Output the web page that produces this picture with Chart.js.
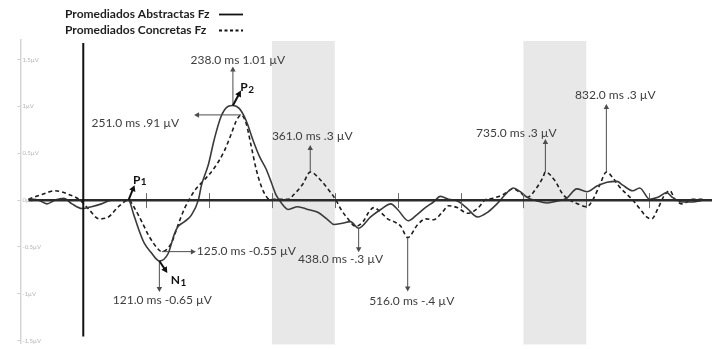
<!DOCTYPE html>
<html>
<head>
<meta charset="utf-8">
<style>
  html, body { margin: 0; padding: 0; background: #ffffff; }
  #wrap { width: 720px; height: 349px; position: relative; }
</style>
<script src="https://cdn.jsdelivr.net/npm/chart.js@4.4.0/dist/chart.umd.min.js"></script>
</head>
<body>
<div id="wrap"><canvas id="erp" width="720" height="349"></canvas></div>
<script>
// Grand-average ERP at Fz: abstract vs concrete words (time in ms, amplitude in µV)
const seriesNames = ['Promediados Abstractas Fz', 'Promediados Concretas Fz'];

const timesAbstract = [-87, -71, -58, -45, -31, -18, -2, 13, 29, 45, 61, 72, 80, 88, 97, 108, 121, 135, 145, 151,
  161, 172, 183, 188, 199, 208, 219, 230, 238, 248, 259, 270, 280, 291, 299, 307, 315, 326, 341, 357,
  373, 389, 399, 410, 425, 438, 457, 473, 489, 500, 517, 530, 544, 557, 568, 581, 595, 611, 627, 643,
  658, 674, 684, 695, 706, 722, 738, 754, 769, 785, 801, 817, 833, 849, 858, 874, 885, 901, 914, 928,
  937, 953, 969, 985];
const valuesAbstract = [0.01, 0, -0.04, 0, 0.02, -0.04, -0.09, -0.07, -0.04, 0, 0, 0, -0.15, -0.31, -0.46, -0.56, -0.65, -0.57, -0.36, -0.28,
  -0.23, -0.16, 0, 0.16, 0.38, 0.64, 0.89, 1.0, 1.01, 0.98, 0.85, 0.64, 0.47, 0.33, 0.19, 0.05, -0.03, -0.10, -0.07, -0.10,
  -0.13, -0.21, -0.26, -0.25, -0.23, -0.3, -0.18, -0.10, -0.04, -0.10, -0.22, -0.16, -0.08, -0.02, 0.04, 0.01, -0.01, -0.09, -0.18, -0.13,
  -0.04, 0.08, 0.13, 0.09, 0.03, -0.01, -0.03, -0.01, 0.02, 0.12, 0.09, 0.15, 0.19, 0.20, 0.16, 0.10, 0.13, 0.01, 0.03, 0.08,
  0.03, -0.02, -0.02, 0];

const timesConcrete = [-87, -66, -45, -23, -5, 9, 25, 40, 56, 72, 82, 93, 105, 120, 125, 140, 151, 161, 177, 193,
  208, 224, 235, 243, 251, 259, 267, 275, 283, 291, 296, 303, 326, 335, 349, 361, 378, 389, 402, 410,
  421, 433, 445, 454, 462, 473, 484, 494, 505, 516, 532, 545, 557, 571, 581, 595, 611, 627, 639, 652,
  668, 684, 695, 706, 722, 731, 735, 750, 763, 774, 790, 801, 811, 822, 832, 842, 853, 865, 874, 885,
  896, 904, 914, 925, 933, 941, 953, 969, 985];
const valuesConcrete = [0.01, 0.06, 0.10, 0.06, 0, -0.10, -0.20, -0.18, -0.07, 0, -0.09, -0.23, -0.39, -0.53, -0.55, -0.46, -0.26, -0.09, 0.10, 0.22,
  0.34, 0.52, 0.70, 0.84, 0.91, 0.82, 0.58, 0.33, 0.15, 0.04, 0.01, 0.01, 0.01, 0.06, 0.17, 0.3, 0.21, 0.12, 0, -0.10,
  -0.20, -0.28, -0.23, -0.13, -0.08, -0.13, -0.20, -0.23, -0.28, -0.4, -0.26, -0.20, -0.21, -0.13, -0.06, -0.08, -0.14, -0.09, 0, 0.02,
  0.06, 0.12, 0.08, 0.03, 0.14, 0.24, 0.3, 0.21, 0.06, 0, -0.05, -0.07, 0.01, 0.17, 0.3, 0.24, 0.14, 0.06, 0, -0.09,
  -0.18, -0.20, -0.09, 0.06, 0.10, 0.01, -0.04, 0.01, 0.01];

// Axis ticks
const amplitudeTicks = [-1.5, -1, -0.5, 0, 0.5, 1, 1.5];
const timeTicks = [100, 200, 300, 400, 500, 600, 700, 800, 900];

// Analysis windows (ms)
const windowStarts = [300, 700];
const windowEnds = [400, 800];

// Labelled peaks: series index 0 = abstract, 1 = concrete
const peakTimes = [238, 251, 361, 125, 121, 438, 516, 735, 832];
const peakValues = [1.01, 0.91, 0.3, -0.55, -0.65, -0.3, -0.4, 0.3, 0.3];
const peakSeries = [0, 1, 1, 1, 0, 0, 1, 1, 1];
const peakLabels = ['238.0 ms 1.01 µV', '251.0 ms .91 µV', '361.0 ms .3 µV', '125.0 ms -0.55 µV',
  '121.0 ms -0.65 µV', '438.0 ms -.3 µV', '516.0 ms -.4 µV', '735.0 ms .3 µV', '832.0 ms .3 µV'];

// Components
const componentLetters = ['P', 'N', 'P'];
const componentDigits = ['1', '1', '2'];
const componentTimes = [72, 121, 238];
const componentValues = [0, -0.65, 1.01];

// Callout geometry (pixel offsets from the peak point)
const calloutStyle = [
  { dir: 'up', len: 39, tx: 5, ty: -45, align: 'center' },
  { dir: 'left', len: 47, tx: -62, ty: 8, align: 'right' },
  { dir: 'up', len: 27, tx: 2, ty: -36, align: 'center' },
  { dir: 'right', len: 34, tx: 35, ty: -1, align: 'left' },
  { dir: 'down', len: 31, tx: 3, ty: 39, align: 'center' },
  { dir: 'down', len: 24, tx: -18, ty: 31, align: 'center' },
  { dir: 'down', len: 54, tx: 4, ty: 64, align: 'center' },
  { dir: 'up', len: 33, tx: -29, ty: -39, align: 'center' },
  { dir: 'up', len: 68, tx: 9, ty: -77, align: 'center' }
];
const componentStyle = [
  { ax: 6, ay: -15, lx: 11, ly: -21 },
  { ax: 8, ay: 12, lx: 19, ly: 19 },
  { ax: 8, ay: -15, lx: 14, ly: -19 }
];

const ANNOT_FONT = '12px Lato, "Open Sans", sans-serif';
const BOLD_FONT = 'bold 12px Lato, "Open Sans", sans-serif';

function arrow(ctx, x1, y1, x2, y2, width, color, head) {
  const ang = Math.atan2(y2 - y1, x2 - x1);
  ctx.save();
  ctx.strokeStyle = color;
  ctx.fillStyle = color;
  ctx.lineWidth = width;
  ctx.setLineDash([]);
  ctx.beginPath();
  ctx.moveTo(x1, y1);
  ctx.lineTo(x2 - Math.cos(ang) * head * 0.6, y2 - Math.sin(ang) * head * 0.6);
  ctx.stroke();
  ctx.beginPath();
  ctx.moveTo(x2, y2);
  ctx.lineTo(x2 - head * Math.cos(ang) + head * 0.55 * Math.sin(ang), y2 - head * Math.sin(ang) - head * 0.55 * Math.cos(ang));
  ctx.lineTo(x2 - head * Math.cos(ang) - head * 0.55 * Math.sin(ang), y2 - head * Math.sin(ang) + head * 0.55 * Math.cos(ang));
  ctx.closePath();
  ctx.fill();
  ctx.restore();
}

const windowShading = {
  id: 'windowShading',
  beforeDatasetsDraw(chart) {
    const { ctx, chartArea, scales: { x } } = chart;
    ctx.save();
    ctx.fillStyle = '#e8e8e8';
    windowStarts.forEach((s, i) => {
      const a = x.getPixelForValue(s), b = x.getPixelForValue(windowEnds[i]);
      ctx.fillRect(a, chartArea.top + 1, b - a, chartArea.bottom - chartArea.top);
    });
    ctx.restore();
  }
};

const baseAxes = {
  id: 'baseAxes',
  afterDatasetsDraw(chart) {
    const { ctx, chartArea, scales: { x, y } } = chart;
    const y0 = y.getPixelForValue(0);
    ctx.save();
    // time ticks on the zero line
    ctx.strokeStyle = '#6a6a6a';
    ctx.lineWidth = 1;
    timeTicks.forEach(t => {
      const px = Math.round(x.getPixelForValue(t)) + 0.5;
      ctx.beginPath();
      ctx.moveTo(px, y0 - 7);
      ctx.lineTo(px, y0 + 8);
      ctx.stroke();
    });
    // zero amplitude line
    ctx.strokeStyle = '#2b2b2b';
    ctx.lineWidth = 2.5;
    ctx.beginPath();
    ctx.moveTo(x.getPixelForValue(timesAbstract[0]), y0);
    ctx.lineTo(x.getPixelForValue(x.max), y0);
    ctx.stroke();
    // stimulus onset
    const xs = x.getPixelForValue(0);
    ctx.strokeStyle = '#111';
    ctx.lineWidth = 2;
    ctx.beginPath();
    ctx.moveTo(xs, chartArea.top + 3);
    ctx.lineTo(xs, chartArea.bottom - 7);
    ctx.stroke();
    ctx.restore();
  }
};

const callouts = {
  id: 'callouts',
  afterDatasetsDraw(chart) {
    const { ctx, scales: { x, y } } = chart;
    ctx.save();
    // value callouts
    peakTimes.forEach((t, i) => {
      const px = x.getPixelForValue(t), py = y.getPixelForValue(peakValues[i]);
      const st = calloutStyle[i];
      let ex = px, ey = py;
      if (st.dir === 'up') ey = py - st.len;
      if (st.dir === 'down') ey = py + st.len;
      if (st.dir === 'left') ex = px - st.len;
      if (st.dir === 'right') ex = px + st.len;
      arrow(ctx, px, py, ex, ey, 1, '#4d4d4d', 5);
      ctx.font = ANNOT_FONT;
      ctx.fillStyle = '#3d3d3d';
      ctx.textAlign = st.align;
      ctx.textBaseline = 'middle';
      ctx.fillText(peakLabels[i], px + st.tx, py + st.ty);
    });
    // component names
    componentTimes.forEach((t, i) => {
      const px = x.getPixelForValue(t), py = y.getPixelForValue(componentValues[i]);
      const st = componentStyle[i];
      arrow(ctx, px, py, px + st.ax, py + st.ay, 2, '#111', 6);
      ctx.font = BOLD_FONT;
      const wL = ctx.measureText(componentLetters[i]).width;
      ctx.font = 'bold 10px Lato, "Open Sans", sans-serif';
      const wD = ctx.measureText(componentDigits[i]).width;
      const left = px + st.lx - (wL + wD) / 2;
      const base = py + st.ly + 4.5;
      ctx.fillStyle = '#111';
      ctx.textAlign = 'left';
      ctx.textBaseline = 'alphabetic';
      ctx.font = BOLD_FONT;
      ctx.fillText(componentLetters[i], left, base);
      ctx.font = 'bold 10px Lato, "Open Sans", sans-serif';
      ctx.fillText(componentDigits[i], left + wL + 0.5, base + 1.5);
    });
    ctx.restore();
  }
};

const seriesKey = {
  id: 'seriesKey',
  afterDraw(chart) {
    const { ctx } = chart;
    ctx.save();
    ctx.font = BOLD_FONT;
    ctx.fillStyle = '#1e1e1e';
    ctx.textAlign = 'left';
    ctx.textBaseline = 'middle';
    const rows = [14, 30];
    chart.data.datasets.forEach((ds, i) => {
      ctx.fillText(ds.label, 65, rows[i]);
      ctx.strokeStyle = '#111';
      ctx.lineWidth = 1.8;
      ctx.setLineDash(ds.borderDash ? [3, 2.5] : []);
      ctx.beginPath();
      ctx.moveTo(219, rows[i] + 0.5);
      ctx.lineTo(243, rows[i] + 0.5);
      ctx.stroke();
    });
    ctx.restore();
  }
};

const toPoints = (ts, vs) => ts.map((t, i) => ({ x: t, y: vs[i] }));

new Chart(document.getElementById('erp').getContext('2d'), {
  type: 'line',
  data: {
    datasets: [
      {
        label: seriesNames[0],
        data: toPoints(timesAbstract, valuesAbstract),
        borderColor: '#3a3a3a',
        borderWidth: 1.6,
        pointRadius: 0,
        cubicInterpolationMode: 'monotone',
        fill: false
      },
      {
        label: seriesNames[1],
        data: toPoints(timesConcrete, valuesConcrete),
        borderColor: '#1c1c1c',
        borderWidth: 1.6,
        borderDash: [4, 3],
        pointRadius: 0,
        cubicInterpolationMode: 'monotone',
        fill: false
      }
    ]
  },
  options: {
    responsive: false,
    animation: false,
    devicePixelRatio: 1,
    layout: { padding: { left: 13.4, right: 8, top: 40, bottom: 0 } },
    scales: {
      x: { type: 'linear', min: -100, max: 1000, display: false },
      y: {
        type: 'linear',
        min: -1.53,
        max: 1.71,
        afterBuildTicks: scale => { scale.ticks = amplitudeTicks.map(v => ({ value: v })); },
        ticks: {
          mirror: true,
          padding: 2,
          color: '#b4b4b4',
          font: { size: 6, family: 'Lato, sans-serif' },
          callback: v => v + 'µV'
        },
        grid: { drawOnChartArea: false, drawTicks: true, tickLength: 3, color: '#cfcfcf' },
        border: { color: '#d6d6d6', width: 1.5 }
      }
    },
    plugins: { legend: { display: false }, tooltip: { enabled: false } }
  },
  plugins: [windowShading, baseAxes, callouts, seriesKey]
});
</script>
</body>
</html>
